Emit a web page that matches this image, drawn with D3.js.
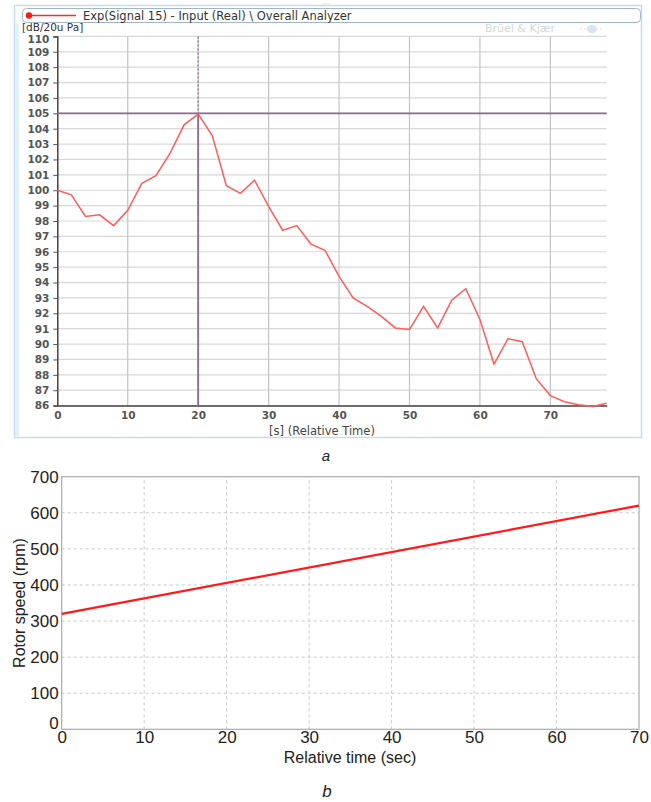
<!DOCTYPE html>
<html><head><meta charset="utf-8">
<script src="https://cdn.jsdelivr.net/npm/d3@7"></script>
<style>body{margin:0;background:#fff;}svg{display:block;}</style>
</head><body>
<svg id="c" width="651" height="802"></svg>
<script>
// ---- Data: chart a ----
const timeA = [0,2,4,6,8,10,12,14,16,18,20,22,24,26,28,30,32,34,36,38,40,42,44,46,48,50,52,54,56,58,60,62,64,66,68,70,72,74,76,78];
const levelA = [100.0,99.7,98.3,98.4,97.7,98.7,100.45,100.95,102.4,104.25,104.95,103.55,100.3,99.8,100.65,98.95,97.4,97.7,96.5,96.1,94.4,93.0,92.45,91.8,91.05,90.95,92.45,91.05,92.85,93.6,91.6,88.7,90.35,90.15,87.75,86.65,86.25,86.05,85.95,86.15];
const yTicksA = d3.range(86,111,1);
const xTicksA = [0,10,20,30,40,50,60,70];
const cursorX = 20, cursorY = 105;
// ---- Data: chart b ----
const timeB = [0,70];
const speedB = [320,620];
const yTicksB = [0,100,200,300,400,500,600,700];
const xTicksB = [0,10,20,30,40,50,60,70];

const svg = d3.select("#c");

// ======= Chart a =======
const fA = "DejaVu Sans, Verdana, sans-serif";
svg.append("rect").attr("x",14.5).attr("y",5.5).attr("width",627).attr("height",432)
  .attr("fill","#fff").attr("stroke","#c9dbe6").attr("stroke-width",1.5);
svg.append("rect").attr("x",15).attr("y",24).attr("width",4).attr("height",412).attr("fill","#dff3f7");
svg.append("text").attr("x",326).attr("y",6).attr("text-anchor","middle").attr("font-size",6).attr("fill","#aaa").text("····");
svg.append("rect").attr("x",22.5).attr("y",8.5).attr("width",618).attr("height",14).attr("rx",4)
  .attr("fill","#fff").attr("stroke","#9fb6cc");
svg.append("line").attr("x1",28).attr("x2",76).attr("y1",15.5).attr("y2",15.5).attr("stroke","#ff2a2a").attr("stroke-width",1.5);
svg.append("circle").attr("cx",29).attr("cy",15.5).attr("r",3.2).attr("fill","#ff1a1a");
svg.append("text").attr("x",83).attr("y",19.5).attr("font-family",fA).attr("font-size",11.5).attr("fill","#333")
  .text("Exp(Signal 15) - Input (Real) \\ Overall Analyzer");
svg.append("text").attr("x",22).attr("y",31).attr("font-family",fA).attr("font-size",10.5).attr("fill","#333").text("[dB/20u Pa]");
svg.append("text").attr("x",485).attr("y",32).attr("font-family",fA).attr("font-size",11).attr("fill","#d2d6de").text("Brüel & Kjær");
svg.append("ellipse").attr("cx",592).attr("cy",29).attr("rx",5).attr("ry",4).attr("fill","#d6e4f5");
svg.append("line").attr("x1",580).attr("x2",604).attr("y1",29).attr("y2",29).attr("stroke","#d6e4f5").attr("stroke-dasharray","2,2");

const xA = d3.scaleLinear().domain([0,78]).range([57.3,606.7]);
const yA = d3.scaleLinear().domain([86,110]).range([405.6,36.4]);

const gA = svg.append("g");
gA.selectAll(".hg").data(yTicksA).join("line")
  .attr("x1",xA(0)).attr("x2",xA(78)).attr("y1",d=>yA(d)).attr("y2",d=>yA(d))
  .attr("stroke","#d8d8d8").attr("stroke-width",1.2);
gA.selectAll(".vg").data(xTicksA.slice(1)).join("line")
  .attr("x1",d=>xA(d)).attr("x2",d=>xA(d)).attr("y1",yA(110)).attr("y2",yA(86))
  .attr("stroke","#c4c4c4").attr("stroke-width",1.2);
const axL = d3.axisLeft(yA).tickValues(yTicksA).tickSize(4).tickFormat(d3.format("d"));
const gyA = gA.append("g").attr("transform",`translate(${xA(0)},0)`).call(axL);
gyA.select(".domain").attr("stroke","#444").attr("stroke-width",1.5);
gyA.selectAll(".tick line").attr("stroke","#555");
gyA.selectAll("text").attr("font-family",fA).attr("font-size",10.5).attr("font-weight","bold").attr("fill","#555").attr("dx",-1)
  .attr("dy",d=>d===110?"0.55em":"0.32em");
const axB = d3.axisBottom(xA).tickValues(xTicksA).tickSize(0).tickPadding(6).tickFormat(d3.format("d"));
const gxA = gA.append("g").attr("transform",`translate(0,${yA(86)})`).call(axB);
gxA.select(".domain").attr("stroke","#444").attr("stroke-width",1.5);
gxA.selectAll("text").attr("font-family",fA).attr("font-size",10.5).attr("font-weight","bold").attr("fill","#555");
gA.append("text").attr("x",322).attr("y",435).attr("text-anchor","middle").attr("font-family",fA).attr("font-size",11.5).attr("fill","#444").text("[s] (Relative Time)");
gA.append("line").attr("x1",xA(0)).attr("x2",xA(78)).attr("y1",yA(cursorY)).attr("y2",yA(cursorY)).attr("stroke","#8e6a91").attr("stroke-width",1.8);
gA.append("line").attr("x1",xA(cursorX)).attr("x2",xA(cursorX)).attr("y1",yA(cursorY)).attr("y2",yA(86)).attr("stroke","#8e6a91").attr("stroke-width",1.8);
gA.append("line").attr("x1",xA(cursorX)).attr("x2",xA(cursorX)).attr("y1",yA(110)).attr("y2",yA(cursorY)).attr("stroke","#8e6a91").attr("stroke-width",1.2).attr("stroke-dasharray","2,2");
const lineA = d3.line().x((d,i)=>xA(timeA[i])).y(d=>yA(d));
gA.append("path").datum(levelA).attr("d",lineA).attr("fill","none").attr("stroke","#ff5c5c").attr("stroke-width",1.5);

svg.append("text").attr("x",326).attr("y",461).attr("text-anchor","middle").attr("font-family","Liberation Sans, Arial, sans-serif").attr("font-style","italic").attr("font-size",15).attr("fill","#222").text("a");

// ======= Chart b =======
const fB = "Liberation Sans, Arial, Helvetica, sans-serif";
const xB = d3.scaleLinear().domain([0,70]).range([61.7,639]);
const yB = d3.scaleLinear().domain([0,700]).range([729.3,476.7]);
const gB = svg.append("g");
gB.selectAll(".hg").data(yTicksB.slice(1,-1)).join("line")
  .attr("x1",xB(0)).attr("x2",xB(70)).attr("y1",d=>yB(d)).attr("y2",d=>yB(d))
  .attr("stroke","#c8c8c8").attr("stroke-dasharray","3,3");
gB.selectAll(".vg").data(xTicksB.slice(1,-1)).join("line")
  .attr("x1",d=>xB(d)).attr("x2",d=>xB(d)).attr("y1",yB(0)).attr("y2",yB(700))
  .attr("stroke","#c8c8c8").attr("stroke-dasharray","3,3");
gB.append("rect").attr("x",xB(0)).attr("y",yB(700)).attr("width",xB(70)-xB(0)).attr("height",yB(0)-yB(700))
  .attr("fill","none").attr("stroke","#aaa").attr("stroke-width",1.2);
const gyB = gB.append("g").attr("transform",`translate(${xB(0)},0)`).call(d3.axisLeft(yB).tickValues(yTicksB).tickSize(0).tickPadding(3));
gyB.select(".domain").remove();
gyB.selectAll("text").attr("font-family",fB).attr("font-size",17).attr("fill","#222")
  .attr("dy",d=>d===0?"-0.05em":"0.32em");
const gxB = gB.append("g").attr("transform",`translate(0,${yB(0)})`).call(d3.axisBottom(xB).tickValues(xTicksB).tickSize(0).tickPadding(2));
gxB.select(".domain").remove();
gxB.selectAll("text").attr("font-family",fB).attr("font-size",17).attr("fill","#222");
gB.append("text").attr("x",350).attr("y",763).attr("text-anchor","middle").attr("font-family",fB).attr("font-size",16).attr("fill","#222").text("Relative time (sec)");
gB.append("text").attr("transform",`translate(25,${yB(350)}) rotate(-90)`).attr("text-anchor","middle").attr("font-family",fB).attr("font-size",16).attr("fill","#222").text("Rotor speed (rpm)");
const lineB = d3.line().x((d,i)=>xB(timeB[i])).y(d=>yB(d));
gB.append("path").datum(speedB).attr("d",lineB).attr("fill","none").attr("stroke","#ff1a1a").attr("stroke-width",2.2);

svg.append("text").attr("x",327).attr("y",797).attr("text-anchor","middle").attr("font-family",fB).attr("font-style","italic").attr("font-size",17).attr("fill","#222").text("b");
</script>
</body></html>
